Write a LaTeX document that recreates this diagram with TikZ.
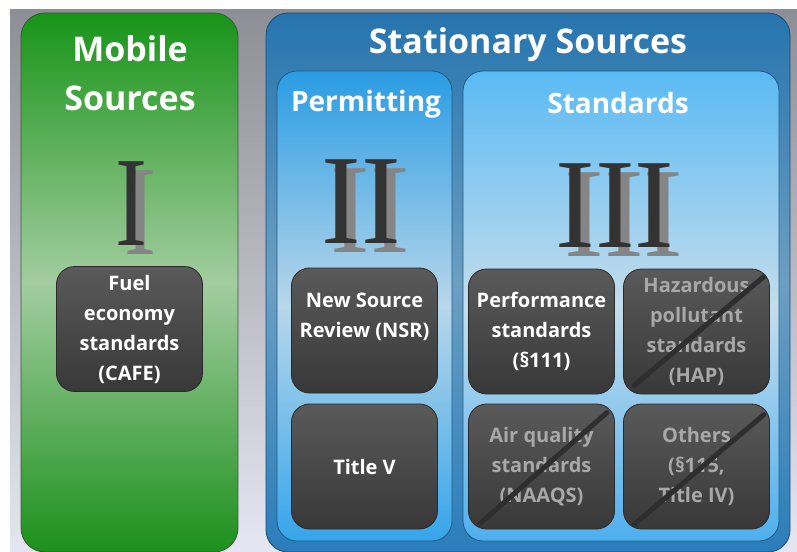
\documentclass[tikz,border=0pt]{standalone}
\usepackage{fontspec}
\setmainfont{Open Sans}
\newfontfamily\numfont{Liberation Serif}
\usepackage{xcolor}
\usepackage{tikz}
\usetikzlibrary{shapes,positioning}

\definecolor{bgtop}{HTML}{8E8E96}
\definecolor{bgbot}{HTML}{E6E6F2}
\definecolor{mobtop}{HTML}{189418}
\definecolor{mobmid}{HTML}{A3CDA0}
\definecolor{mobbot}{HTML}{1C901C}
\definecolor{mobline}{HTML}{2E5E2E}
\definecolor{stattop}{HTML}{2674AE}
\definecolor{statmid}{HTML}{6C9FC2}
\definecolor{statbot}{HTML}{2A7DBB}
\definecolor{statline}{HTML}{1B4C70}
\definecolor{permtop}{HTML}{2A9CE4}
\definecolor{permmid}{HTML}{B8D7EA}
\definecolor{permbot}{HTML}{36A5EA}
\definecolor{stdtop}{HTML}{5ABAF4}
\definecolor{stdmid}{HTML}{C4DDEC}
\definecolor{stdbot}{HTML}{4EAFEE}
\definecolor{subline}{HTML}{1D5A85}
\definecolor{boxtop}{HTML}{5A5A5A}
\definecolor{boxbot}{HTML}{383838}
\definecolor{boxline}{HTML}{2A2A2A}
\definecolor{crosstext}{HTML}{A8A8A8}
\definecolor{strikecol}{HTML}{2E2E2E}
\definecolor{numdark}{HTML}{333333}
\definecolor{numgray}{HTML}{858585}

\begin{document}
\begin{tikzpicture}[x=1pt, y=-1pt, node distance = 135pt, auto]
	% % % % % % % % % % % % % % % % % % % % % % % % % % % % % %
	% Define styles
	\tikzstyle{panel} = [rectangle, draw, rounded corners=24pt, line width=0.8pt, inner sep=0pt]
	\tikzstyle{block} = [rectangle, draw=boxline, line width=0.8pt, rounded corners=18pt,
					     top color=boxtop, bottom color=boxbot, minimum width=146pt, minimum height=125pt,
					     inner sep=0pt, text=white, align=center, font=\bfseries\fontsize{20}{30}\selectfont]
	\tikzstyle{crossed} = [text=crosstext]
	\tikzstyle{strike} = [draw=strikecol, line width=5pt, line cap=round]
	\tikzstyle{title} = [text=white, font=\bfseries\fontsize{34}{46}\selectfont, anchor=base, inner sep=0pt]
	\tikzstyle{subtitle} = [text=white, font=\bfseries\fontsize{28}{34}\selectfont, anchor=base, inner sep=0pt]
	\tikzstyle{numeral} = [text=numdark, font=\numfont\fontsize{128}{128}\selectfont, anchor=base, inner sep=0pt]
	\tikzstyle{numshadow} = [numeral, text=numgray]

	% % % % % % % % % % % % % % % % % % % % % % % % % % % % % %
	% Background
	\useasboundingbox (0,0) rectangle (797,551);
	\fill[white] (0,0) rectangle (797,551);
	\fill[top color=bgtop, bottom color=bgbot] (10,10) rectangle (797,551);

	% % % % % % % % % % % % % % % % % % % % % % % % % % % % % %
	% Place panels
	\node [panel, draw=mobline, top color=mobtop, bottom color=mobbot, middle color=mobmid,
		   minimum width=217pt, minimum height=539pt] (mob) at (129.5,282.5) {};
	\node [panel, draw=statline, top color=stattop, bottom color=statbot, middle color=statmid,
		   minimum width=524pt, minimum height=539pt, rounded corners=22pt] (stat) at (528,282.5) {};
	\node [panel, draw=subline, top color=permtop, bottom color=permbot, middle color=permmid,
		   minimum width=175pt, minimum height=470pt, rounded corners=20pt] (perm) at (364.5,306) {};
	\node [panel, draw=subline, top color=stdtop, bottom color=stdbot, middle color=stdmid,
		   minimum width=316pt, minimum height=470pt, rounded corners=20pt] (std) at (621,306) {};

	% titles
	\node [title] (mobA) at (130,62) {Mobile};
	\node [title] (mobB) at (130,110) {Sources};
	\node [title] (statT) at (528,53) {Stationary Sources};
	\node [subtitle] (permT) at (366,111) {Permitting};
	\node [subtitle] (stdT) at (618,113) {Standards};

	% numerals
	\node [numshadow] (numIs) at (140,254) {\scalebox{0.75}[1]{I}};
	\node [numeral] (numI) at (131,245) {\scalebox{0.75}[1]{I}};
	\node [numshadow] (numIIs) at (370,252) {\scalebox{0.93}[1]{II}};
	\node [numeral] (numII) at (361,243) {\scalebox{0.93}[1]{II}};
	\node [numshadow] (numIIIs) at (624,256) {\scalebox{0.93}[1]{III}};
	\node [numeral] (numIII) at (615,247) {\scalebox{0.93}[1]{III}};

	% % % % % % % % % % % % % % % % % % % % % % % % % % % % % %
	% Place blocks
	\node [block] (cafe) at (129.5,329) {Fuel\\economy\\standards\\(CAFE)};
	% permitting
	\node [block] (nsr) at (364.5,330.5) {New Source\\Review (NSR)\\\mbox{}};
	\node [block, below of=nsr, node distance = 136pt] (tv) {Title V};
	% standards
	\node [block] (nsps) at (541.5,331.5) {Performance\\standards\\(\S111)};
	\node [block, crossed, right of=nsps, node distance = 155pt] (hap) {Hazardous\\pollutant\\standards\\(HAP)};
	\node [block, crossed, below of=nsps] (naaqs) {Air quality\\standards\\(NAAQS)};
	\node [block, crossed, below of=hap] (oth) {Others\\(\S115,\\Title IV)};

	% Draw strikes
	\draw [strike] ([shift={(11pt,9pt)}]hap.south west) -- ([shift={(-6pt,-8pt)}]hap.north east);
	\draw [strike] ([shift={(12pt,6pt)}]naaqs.south west) -- ([shift={(-8pt,-9pt)}]naaqs.north east);
	\draw [strike] ([shift={(11pt,5pt)}]oth.south west) -- ([shift={(-6pt,-11pt)}]oth.north east);
\end{tikzpicture}
\end{document}
